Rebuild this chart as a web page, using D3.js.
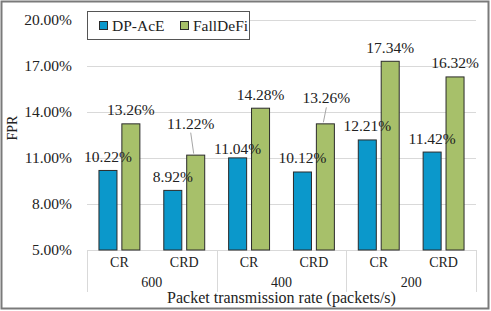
<!DOCTYPE html>
<html><head><meta charset="utf-8">
<script src="https://cdn.jsdelivr.net/npm/d3@7"></script>
<style>
html,body{margin:0;padding:0;background:#fff;}
svg text{font-family:"Liberation Serif","Times New Roman",serif;fill:#222;}
</style></head>
<body>
<svg id="c" width="491" height="311"></svg>
<script>
const groups = ["600", "400", "200"];
const subcats = ["CR", "CRD"];
const seriesNames = ["DP-AcE", "FallDeFi"];
const dpAce   = [10.22, 8.92, 11.04, 10.12, 12.21, 11.42];
const fallDeFi = [13.26, 11.22, 14.28, 13.26, 17.34, 16.32];
const yTicks = [5, 8, 11, 14, 17, 20];
const colors = ["#0B98CB", "#A7C06A"];
const xTitle = "Packet transmission rate (packets/s)";
const yTitle = "FPR";
// label offsets (layout only): [dx, dy] relative to default position; leader flag
const labelLayout = {
  "0-2": [0, 5, false],
  "1-1": [-5, -18, true],
  "1-3": [1, -12, true]
};

const svg = d3.select("#c");
svg.append("rect").attr("x", 1.5).attr("y", 1.5).attr("width", 487).attr("height", 307)
  .attr("fill", "#fff").attr("stroke", "#7a7a7a").attr("stroke-width", 2);

const pL = 87, pR = 476, pT = 20, pB = 250;
const cats = [];
groups.forEach(g => subcats.forEach(s => cats.push(g + "|" + s)));

const x = d3.scaleBand().domain(cats).range([pL, pR]).paddingInner(0).paddingOuter(0);
const y = d3.scaleLinear().domain([5, 20]).range([pB, pT]);
const xs = d3.scaleBand().domain([0, 1]).range([0, x.bandwidth()]).paddingInner(0.17).paddingOuter(0.5);

const yAxis = d3.axisLeft(y).tickValues(yTicks).tickSize(-(pR - pL)).tickFormat(d => d.toFixed(2) + "%").tickPadding(15);
const gy = svg.append("g").attr("transform", `translate(${pL},0)`).call(yAxis);
gy.attr("font-family", null);
gy.select(".domain").remove();
gy.selectAll(".tick line").attr("stroke", "#d9d9d9").attr("stroke-width", 1);
gy.selectAll(".tick text").attr("font-size", "15.5px").attr("fill", "#222");

svg.append("line").attr("x1", pL).attr("x2", pR).attr("y1", pB + 0.5).attr("y2", pB + 0.5)
  .attr("stroke", "#d9d9d9");

const gx = d3.scaleBand().domain(groups).range([pL, pR]);
const seps = groups.map(g => gx(g)).concat([pR]);
svg.selectAll("line.sep").data(seps).enter().append("line")
  .attr("x1", d => Math.round(d) + 0.5).attr("x2", d => Math.round(d) + 0.5)
  .attr("y1", pB).attr("y2", 292).attr("stroke", "#d9d9d9");

svg.selectAll("text.cat").data(cats).enter().append("text")
  .attr("x", d => x(d) + x.bandwidth() / 2).attr("y", 267)
  .attr("text-anchor", "middle").attr("font-size", "14px").text(d => d.split("|")[1]);
svg.selectAll("text.grp").data(groups).enter().append("text")
  .attr("x", d => gx(d) + gx.bandwidth() / 2).attr("y", 287)
  .attr("text-anchor", "middle").attr("font-size", "14px").text(d => d);
svg.append("text").attr("x", (pL + pR) / 2).attr("y", 303)
  .attr("text-anchor", "middle").attr("font-size", "16px").text(xTitle);
svg.append("text").attr("transform", "translate(17,128) rotate(-90)")
  .attr("text-anchor", "middle").attr("font-size", "14px").text(yTitle);

const series = [dpAce, fallDeFi];
const barData = [];
series.forEach((vals, si) => vals.forEach((v, ci) => barData.push({si, ci, v})));
const barW = xs.bandwidth();
svg.selectAll("rect.bar").data(barData).enter().append("rect")
  .attr("x", d => x(cats[d.ci]) + xs(d.si) + 0.5)
  .attr("y", d => y(d.v) + 0.5)
  .attr("width", barW - 1)
  .attr("height", d => y(5) - y(d.v) - 0.5)
  .attr("fill", d => colors[d.si]).attr("stroke", "#2b2b2b").attr("stroke-width", 1);

barData.forEach(d => {
  const key = d.si + "-" + d.ci;
  const lay = labelLayout[key] || [0, 0, false];
  const cx = x(cats[d.ci]) + xs(d.si) + barW / 2;
  const topY = y(d.v);
  const lx = cx + lay[0];
  const ly = topY - 8 + lay[1];
  if (lay[2]) {
    svg.append("line").attr("x1", cx - 2).attr("y1", topY - 1)
      .attr("x2", lx).attr("y2", ly + 4).attr("stroke", "#a6a6a6").attr("stroke-width", 1);
  }
  svg.append("text").attr("x", lx).attr("y", ly).attr("text-anchor", "middle")
    .attr("font-size", "15.5px").text(d.v.toFixed(2) + "%");
});

const lg = svg.append("g");
lg.append("rect").attr("x", 87.5).attr("y", 11.5).attr("width", 162).attr("height", 28)
  .attr("fill", "#fff").attr("stroke", "#555").attr("stroke-width", 1);
const legX = [99, 180];
seriesNames.forEach((n, i) => {
  lg.append("rect").attr("x", legX[i] + 0.5).attr("y", 21.5).attr("width", 8).attr("height", 8)
    .attr("fill", colors[i]).attr("stroke", "#2b2b2b");
  lg.append("text").attr("x", legX[i] + 13).attr("y", 31).attr("font-size", "15.5px").text(n);
});
</script>
</body></html>
